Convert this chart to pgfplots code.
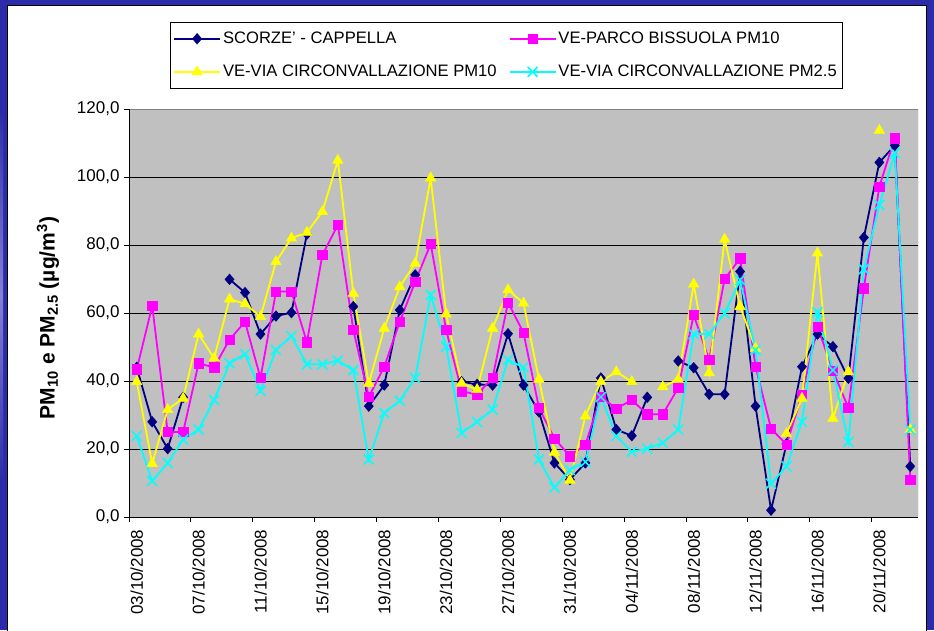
\documentclass[border=0pt]{standalone}
\usepackage{pgfplots}
\pgfplotsset{compat=1.18}
\usepackage{pgfplotstable}
\usepackage{fontspec}
\setmainfont{Liberation Sans}
\definecolor{navyS}{RGB}{0,0,128}
\definecolor{magP}{RGB}{255,0,255}
\definecolor{yelV}{RGB}{255,255,0}
\definecolor{cyaV}{RGB}{0,255,255}
\definecolor{plotbg}{RGB}{192,192,192}
\definecolor{frameblue}{RGB}{44,44,170}
\definecolor{framelight}{RGB}{130,130,210}

\pgfplotstableread{
i s p y c
0 44.0 43.4 39.8 23.8
1 28.0 62.1 15.7 10.6
2 20.1 25.0 31.6 15.9
3 35.2 25.0 34.9 22.8
4 nan 45.2 53.8 25.7
5 nan 44.0 46.7 34.4
6 69.9 52.2 64.1 45.2
7 66.0 57.4 62.7 47.9
8 53.8 40.9 58.9 37.1
9 59.1 66.3 75.1 49.1
10 60.1 66.3 82.0 53.2
11 83.2 51.4 83.7 44.9
12 nan 77.1 89.8 44.9
13 nan 85.9 104.9 46.0
14 61.9 55.0 65.8 43.2
15 32.6 35.3 39.3 16.9
16 38.8 44.2 55.5 30.6
17 60.9 57.4 67.7 34.2
18 71.2 69.2 74.6 40.9
19 nan 80.3 99.7 65.3
20 nan 55.0 59.7 50.1
21 39.8 37.0 39.3 24.7
22 39.0 36.0 37.5 28.0
23 38.8 40.9 55.5 31.6
24 53.9 63.1 66.8 46.2
25 38.8 54.2 62.9 44.0
26 30.9 32.1 40.5 16.9
27 15.9 23.1 19.0 8.7
28 11.0 17.9 10.8 13.8
29 15.9 21.3 29.7 16.2
30 40.9 35.3 39.8 35.3
31 25.7 31.9 42.7 23.8
32 23.9 34.4 39.8 19.2
33 35.2 30.2 nan 20.1
34 nan 30.2 38.3 21.8
35 45.9 38.0 40.5 25.7
36 43.9 59.4 68.5 53.8
37 36.1 46.2 42.4 53.8
38 36.1 70.0 81.7 59.9
39 72.2 76.1 61.9 69.7
40 32.6 44.2 49.6 49.1
41 2.0 26.0 nan 9.8
42 21.5 21.3 24.5 14.9
43 44.2 36.0 34.9 28.0
44 53.8 56.0 77.6 60.2
45 50.1 43.0 29.0 43.2
46 40.8 32.1 42.7 22.1
47 82.2 67.3 nan 72.9
48 104.3 97.2 113.7 91.8
49 109.3 111.4 nan 107.0
50 14.9 11.0 25.7 25.7
}\datatab

\begin{document}
\begin{tikzpicture}[x=1pt,y=1pt]
\path[use as bounding box] (0,0) rectangle (934,630);
\fill[frameblue] (0,0) rectangle (934,630);
\shade[top color=frameblue, bottom color=frameblue, middle color=framelight] (0,150) rectangle (3,520);
\fill[white, draw=black, line width=0.8pt] (7,-3) rectangle (926,625);
\begin{axis}[
  at={(129pt,113pt)}, anchor=south west,
  scale only axis, width=789pt, height=408pt,
  xmin=-0.5, xmax=50.5, ymin=0, ymax=120,
  axis background/.style={fill=plotbg},
  axis line style={draw=none},
  unbounded coords=jump,
  tick align=outside,
  xtick pos=bottom, ytick pos=left,
  major tick length=0pt,
  minor tick length=5pt,
  minor tick style={black, line width=0.8pt},
  xtick={0,4,...,48},
  xticklabels={03/10/2008,07/10/2008,11/10/2008,15/10/2008,19/10/2008,23/10/2008,27/10/2008,31/10/2008,04/11/2008,08/11/2008,12/11/2008,16/11/2008,20/11/2008},
  minor xtick={-0.5,3.5,...,47.5},
  ytick={0,20,...,120},
  minor ytick={0,20,...,120},
  yticklabels={{0,0},{20,0},{40,0},{60,0},{80,0},{100,0},{120,0}},
  ticklabel style={font=\fontsize{17}{20}\selectfont},
  xticklabel style={rotate=90, anchor=east},
  xticklabel shift=9pt,
  yticklabel shift=6pt,
  ymajorgrids,
  major grid style={black, line width=0.9pt},
  ylabel={PM\textsubscript{10} e PM\textsubscript{2.5} (µg/m\textsuperscript{3})},
  ylabel style={at={(axis description cs:-0.1027,0.4877)}, anchor=center, font=\fontsize{21}{24}\selectfont\bfseries},
  legend columns=2,
  legend cell align=left,
  legend image code/.code={\draw[mark repeat=2, mark phase=2, #1] plot coordinates {(0pt,0pt) (23pt,0pt) (46pt,0pt)};},
  legend style={at={(axis description cs:0.052,1.2132)}, anchor=north west,
    draw=black, fill=white,
    font=\fontsize{16.6}{19}\selectfont,
    inner xsep=3pt, inner ysep=8pt, row sep=16pt,
    /tikz/every even column/.append style={column sep=10pt}},
]
\addplot[navyS, line width=1.8pt, mark=diamond*, mark size=5.3pt, mark options={solid, fill=navyS, draw=navyS, xscale=1.15, line width=0.5pt}] table[x=i, y=s] {\datatab};
\addlegendentry{SCORZE' - CAPPELLA}
\addplot[magP, line width=1.8pt, mark=square*, mark size=4.7pt, mark options={solid, fill=magP, draw=magP, line width=0.5pt}] table[x=i, y=p] {\datatab};
\addlegendentry{VE-PARCO BISSUOLA PM10}
\addplot[yelV, line width=1.8pt, mark=triangle*, mark size=6pt, mark options={solid, fill=yelV, draw=yelV, line width=0.5pt}] table[x=i, y=y] {\datatab};
\addlegendentry{VE-VIA CIRCONVALLAZIONE PM10}
\addplot[cyaV, line width=1.8pt, mark=x, mark size=7pt, mark options={solid, draw=cyaV, line width=1.5pt}] table[x=i, y=c] {\datatab};
\addlegendentry{VE-VIA CIRCONVALLAZIONE PM2.5}
\draw[gray, line width=0.9pt] (rel axis cs:0,1) -- (rel axis cs:1,1) -- (rel axis cs:1,0);
\draw[black, line width=0.9pt] (rel axis cs:0,1) -- (rel axis cs:0,0) -- (rel axis cs:1,0);
\end{axis}
\end{tikzpicture}
\end{document}
